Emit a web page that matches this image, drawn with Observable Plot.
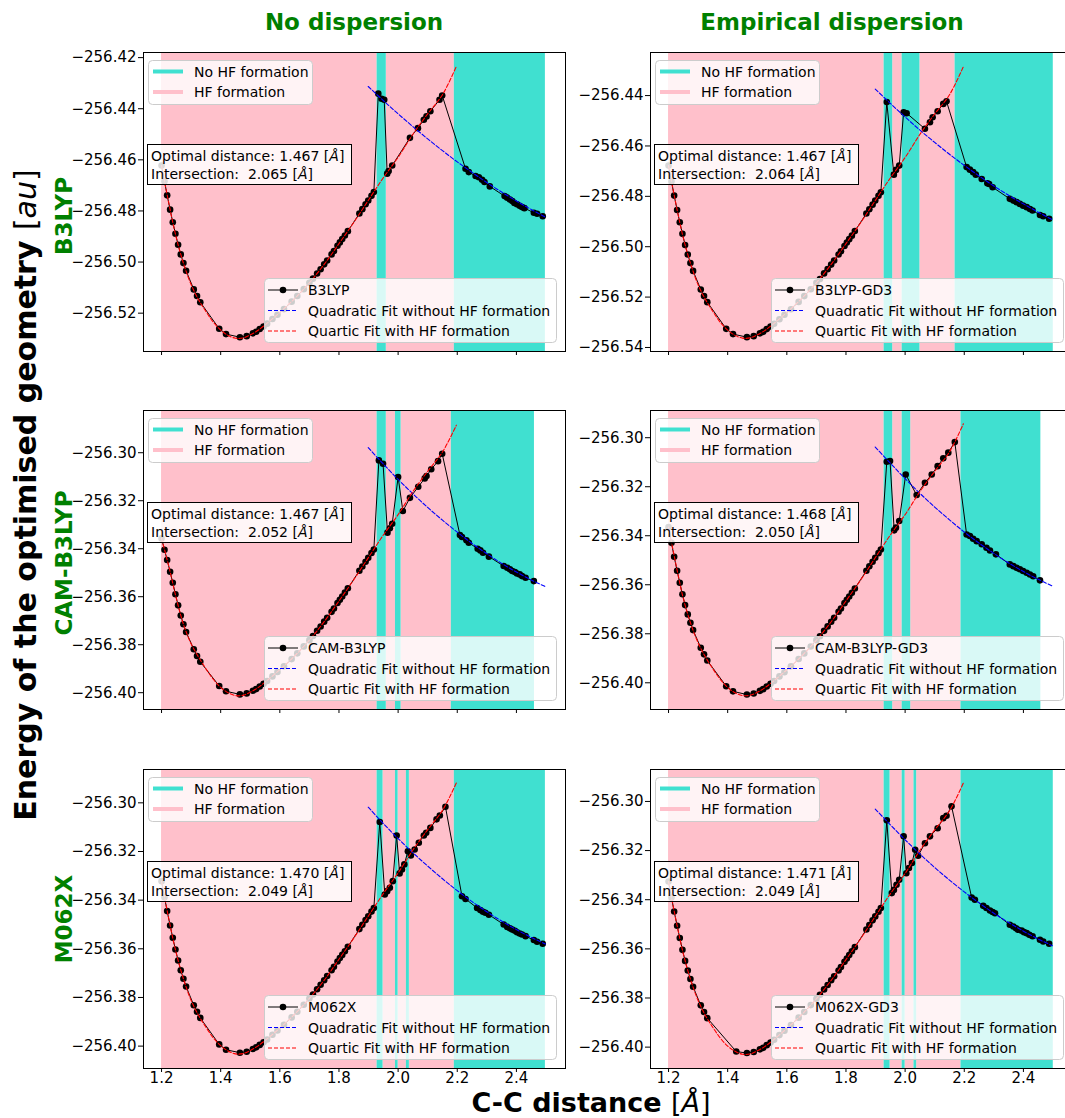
<!DOCTYPE html>
<html>
<head>
<meta charset="utf-8">
<script src="https://cdn.jsdelivr.net/npm/d3@7"></script>
<script src="https://cdn.jsdelivr.net/npm/@observablehq/plot@0.6"></script>
<style>
html,body{margin:0;padding:0;background:#fff;}
#fig{position:relative;width:1065px;height:1118px;overflow:hidden;background:#fff;font-family:"DejaVu Sans",sans-serif;}
#fig svg.ov{position:absolute;overflow:visible;font-family:"DejaVu Sans",sans-serif;font-size:14px;pointer-events:none;}
</style>
</head>
<body>
<div id="fig"></div>
<script>
// ---------------- data ----------------
const columnTitles = ["No dispersion", "Empirical dispersion"];
const rowLabels = ["B3LYP", "CAM-B3LYP", "M062X"];
const legendKinds = ["No HF formation", "HF formation"];
const fitLabels = ["Quadratic Fit without HF formation", "Quartic Fit with HF formation"];
const xTicks = [1.2, 1.4, 1.6, 1.8, 2.0, 2.2, 2.4];
const yTicksB3LYP = [-256.52, -256.50, -256.48, -256.46, -256.44, -256.42];
const yTicksB3LYPGD3 = [-256.54, -256.52, -256.50, -256.48, -256.46, -256.44];
const yTicksOther = [-256.40, -256.38, -256.36, -256.34, -256.32, -256.30];

// C-C distances of the scan (short-distance branch)
const scanX = [1.200,1.210,1.219,1.229,1.238,1.247,1.256,1.265,1.274,1.283,1.309,1.320,1.331,1.395,1.418,1.465,1.488,1.509,1.520,1.532,1.545,1.557,1.575,1.592,1.614,1.640,1.659,1.681,1.700,1.712,1.726,1.738,1.750,1.760,1.775,1.783,1.795,1.803,1.811,1.820,1.830,1.869,1.879,1.890,1.899,1.910,1.918];
const m062xGd3ScanX = [1.200,1.210,1.219,1.229,1.238,1.247,1.256,1.265,1.274,1.283,1.309,1.320,1.331,1.429,1.465,1.488,1.509,1.520,1.532,1.545,1.557,1.575,1.592,1.614,1.640,1.659,1.681,1.700,1.712,1.726,1.738,1.750,1.760,1.775,1.783,1.795,1.803,1.811,1.820,1.830,1.869,1.879,1.890,1.899,1.910,1.918];

// fit curve sample positions
const quarticX = [1.200,1.225,1.250,1.275,1.300,1.325,1.350,1.375,1.400,1.425,1.450,1.475,1.500,1.525,1.550,1.600,1.650,1.700,1.750,1.800,1.850,1.900,1.950,2.000,2.050,2.100,2.150,2.197];
const quadX = [1.899,1.950,2.000,2.050,2.100,2.150,2.200,2.250,2.300,2.350,2.400,2.450,2.498];

// ---- B3LYP ----
const b3lypScanY = [-256.4622,-256.4684,-256.4739,-256.4795,-256.4844,-256.4889,-256.4932,-256.4970,-256.5004,-256.5034,-256.5107,-256.5133,-256.5157,-256.5261,-256.5282,-256.5294,-256.5290,-256.5279,-256.5273,-256.5262,-256.5252,-256.5241,-256.5223,-256.5206,-256.5184,-256.5155,-256.5133,-256.5106,-256.5081,-256.5065,-256.5045,-256.5028,-256.5009,-256.4994,-256.4970,-256.4957,-256.4936,-256.4923,-256.4910,-256.4896,-256.4879,-256.4810,-256.4793,-256.4774,-256.4759,-256.4741,-256.4726];
const b3lypTailX = [1.933,1.944,1.953,1.963,1.968,1.980,2.040,2.067,2.087,2.096,2.109,2.140,2.149,2.228,2.239,2.262,2.273,2.284,2.292,2.310,2.360,2.369,2.378,2.386,2.393,2.402,2.411,2.419,2.427,2.459,2.470,2.489];
const b3lypTailY = [-256.4341,-256.4361,-256.4365,-256.4654,-256.4644,-256.4622,-256.4514,-256.4476,-256.4443,-256.4430,-256.4410,-256.4365,-256.4348,-256.4635,-256.4648,-256.4663,-256.4668,-256.4678,-256.4687,-256.4704,-256.4742,-256.4748,-256.4755,-256.4761,-256.4769,-256.4774,-256.4780,-256.4785,-256.4789,-256.4807,-256.4811,-256.4821];
const b3lypQuarticY = [-256.4622,-256.4772,-256.4905,-256.5008,-256.5088,-256.5147,-256.5193,-256.5235,-256.5266,-256.5287,-256.5298,-256.5297,-256.5285,-256.5268,-256.5246,-256.5197,-256.5143,-256.5081,-256.5009,-256.4928,-256.4845,-256.4757,-256.4670,-256.4590,-256.4500,-256.4420,-256.4345,-256.4234];
const b3lypQuadY = [-256.4313,-256.4368,-256.4420,-256.4470,-256.4518,-256.4564,-256.4608,-256.4649,-256.4689,-256.4726,-256.4761,-256.4794,-256.4824];
const b3lypSpans = [[1.200,1.929,"HF"],[1.929,1.960,"no"],[1.960,2.190,"HF"],[2.190,2.498,"no"]];

// ---- B3LYP-GD3 ----
const b3lypGd3ScanY = [-256.4678,-256.4741,-256.4797,-256.4854,-256.4903,-256.4949,-256.4993,-256.5031,-256.5065,-256.5096,-256.5170,-256.5196,-256.5220,-256.5326,-256.5347,-256.5359,-256.5355,-256.5344,-256.5338,-256.5327,-256.5317,-256.5306,-256.5288,-256.5270,-256.5248,-256.5219,-256.5196,-256.5169,-256.5143,-256.5128,-256.5106,-256.5089,-256.5071,-256.5055,-256.5031,-256.5018,-256.4997,-256.4983,-256.4970,-256.4956,-256.4938,-256.4868,-256.4851,-256.4833,-256.4817,-256.4798,-256.4784];
const b3lypGd3TailX = [1.938,1.962,1.969,1.980,1.995,2.005,2.067,2.084,2.093,2.110,2.129,2.140,2.208,2.219,2.230,2.239,2.259,2.278,2.284,2.296,2.354,2.366,2.377,2.388,2.399,2.411,2.422,2.431,2.456,2.467,2.487];
const b3lypGd3TailY = [-256.4426,-256.4714,-256.4695,-256.4678,-256.4466,-256.4470,-256.4532,-256.4506,-256.4486,-256.4462,-256.4433,-256.4423,-256.4684,-256.4694,-256.4704,-256.4714,-256.4731,-256.4748,-256.4751,-256.4764,-256.4810,-256.4817,-256.4823,-256.4830,-256.4837,-256.4843,-256.4850,-256.4856,-256.4874,-256.4879,-256.4889];
const b3lypGd3QuarticY = [-256.4678,-256.4830,-256.4965,-256.5069,-256.5151,-256.5210,-256.5257,-256.5300,-256.5331,-256.5352,-256.5363,-256.5362,-256.5350,-256.5333,-256.5311,-256.5261,-256.5206,-256.5143,-256.5070,-256.4988,-256.4904,-256.4815,-256.4727,-256.4646,-256.4554,-256.4473,-256.4397,-256.4285];
const b3lypGd3QuadY = [-256.4374,-256.4431,-256.4485,-256.4537,-256.4586,-256.4633,-256.4677,-256.4719,-256.4759,-256.4796,-256.4830,-256.4863,-256.4893];
const b3lypGd3Spans = [[1.200,1.929,"HF"],[1.929,1.958,"no"],[1.958,1.990,"HF"],[1.990,2.050,"no"],[2.050,2.169,"HF"],[2.169,2.501,"no"]];

// ---- CAM-B3LYP ----
const camScanY = [-256.3357,-256.3404,-256.3447,-256.3496,-256.3542,-256.3590,-256.3636,-256.3678,-256.3715,-256.3747,-256.3819,-256.3847,-256.3871,-256.3972,-256.3994,-256.4007,-256.4003,-256.3992,-256.3985,-256.3974,-256.3963,-256.3951,-256.3932,-256.3914,-256.3890,-256.3860,-256.3836,-256.3807,-256.3781,-256.3764,-256.3742,-256.3724,-256.3704,-256.3688,-256.3663,-256.3649,-256.3626,-256.3613,-256.3599,-256.3583,-256.3565,-256.3492,-256.3474,-256.3454,-256.3438,-256.3418,-256.3403];
const camTailX = [1.935,1.949,1.964,1.972,1.980,2.000,2.016,2.040,2.068,2.090,2.096,2.112,2.135,2.149,2.209,2.216,2.231,2.239,2.269,2.278,2.287,2.307,2.357,2.369,2.378,2.386,2.395,2.402,2.411,2.419,2.431,2.459];
const camTailY = [-256.3032,-256.3046,-256.3333,-256.3315,-256.3296,-256.3101,-256.3243,-256.3188,-256.3142,-256.3107,-256.3097,-256.3069,-256.3035,-256.3004,-256.3343,-256.3351,-256.3365,-256.3375,-256.3400,-256.3407,-256.3417,-256.3433,-256.3472,-256.3479,-256.3486,-256.3493,-256.3497,-256.3503,-256.3507,-256.3514,-256.3521,-256.3535];
const camQuarticY = [-256.3357,-256.3475,-256.3607,-256.3718,-256.3796,-256.3851,-256.3900,-256.3944,-256.3978,-256.4000,-256.4012,-256.4011,-256.3998,-256.3980,-256.3956,-256.3904,-256.3847,-256.3781,-256.3704,-256.3618,-256.3529,-256.3436,-256.3343,-256.3258,-256.3162,-256.3077,-256.2997,-256.2885];
const camQuadY = [-256.2979,-256.3047,-256.3111,-256.3171,-256.3228,-256.3281,-256.3331,-256.3378,-256.3421,-256.3461,-256.3497,-256.3530,-256.3558];
const camSpans = [[1.200,1.929,"HF"],[1.929,1.960,"no"],[1.960,1.991,"HF"],[1.991,2.010,"no"],[2.010,2.180,"HF"],[2.180,2.461,"no"]];

// ---- CAM-B3LYP-GD3 ----
const camGd3ScanY = [-256.3365,-256.3429,-256.3486,-256.3543,-256.3592,-256.3639,-256.3683,-256.3721,-256.3755,-256.3785,-256.3857,-256.3884,-256.3909,-256.4014,-256.4035,-256.4048,-256.4044,-256.4033,-256.4026,-256.4015,-256.4004,-256.3993,-256.3974,-256.3957,-256.3933,-256.3903,-256.3880,-256.3852,-256.3826,-256.3810,-256.3788,-256.3770,-256.3751,-256.3735,-256.3710,-256.3697,-256.3675,-256.3661,-256.3648,-256.3633,-256.3615,-256.3543,-256.3525,-256.3506,-256.3490,-256.3471,-256.3456];
const camGd3TailX = [1.938,1.949,1.963,1.969,1.980,2.002,2.039,2.067,2.090,2.110,2.129,2.146,2.168,2.208,2.219,2.230,2.242,2.259,2.275,2.287,2.307,2.354,2.366,2.377,2.388,2.399,2.411,2.422,2.433,2.456];
const camGd3TailY = [-256.3098,-256.3095,-256.3378,-256.3367,-256.3340,-256.3150,-256.3234,-256.3184,-256.3150,-256.3116,-256.3084,-256.3061,-256.3018,-256.3395,-256.3401,-256.3412,-256.3422,-256.3435,-256.3449,-256.3460,-256.3476,-256.3517,-256.3524,-256.3531,-256.3537,-256.3544,-256.3551,-256.3558,-256.3565,-256.3582];
const camGd3QuarticY = [-256.3365,-256.3517,-256.3656,-256.3758,-256.3837,-256.3895,-256.3943,-256.3986,-256.4019,-256.4041,-256.4052,-256.4051,-256.4039,-256.4021,-256.3998,-256.3947,-256.3891,-256.3826,-256.3751,-256.3666,-256.3580,-256.3488,-256.3397,-256.3314,-256.3220,-256.3137,-256.3058,-256.2943];
const camGd3QuadY = [-256.3038,-256.3104,-256.3167,-256.3227,-256.3283,-256.3335,-256.3385,-256.3430,-256.3472,-256.3511,-256.3546,-256.3578,-256.3605];
const camGd3Spans = [[1.200,1.929,"HF"],[1.929,1.958,"no"],[1.958,1.990,"HF"],[1.990,2.019,"no"],[2.019,2.189,"HF"],[2.189,2.459,"no"]];

// ---- M062X ----
const m062xScanY = [-256.3322,-256.3388,-256.3445,-256.3504,-256.3555,-256.3603,-256.3648,-256.3688,-256.3723,-256.3755,-256.3832,-256.3859,-256.3884,-256.3993,-256.4015,-256.4027,-256.4023,-256.4012,-256.4005,-256.3995,-256.3984,-256.3973,-256.3953,-256.3936,-256.3912,-256.3882,-256.3859,-256.3830,-256.3804,-256.3788,-256.3766,-256.3748,-256.3729,-256.3712,-256.3688,-256.3674,-256.3652,-256.3638,-256.3625,-256.3610,-256.3592,-256.3519,-256.3501,-256.3482,-256.3466,-256.3447,-256.3432];
const m062xTailX = [1.938,1.955,1.963,1.972,1.982,1.995,2.005,2.013,2.021,2.033,2.043,2.056,2.070,2.087,2.095,2.109,2.130,2.141,2.160,2.216,2.228,2.267,2.278,2.287,2.295,2.307,2.357,2.369,2.378,2.386,2.395,2.402,2.411,2.419,2.431,2.459,2.470,2.489];
const m062xTailY = [-256.3079,-256.3377,-256.3363,-256.3349,-256.3322,-256.3134,-256.3290,-256.3274,-256.3253,-256.3199,-256.3216,-256.3192,-256.3164,-256.3134,-256.3123,-256.3103,-256.3068,-256.3052,-256.3016,-256.3384,-256.3395,-256.3432,-256.3441,-256.3448,-256.3452,-256.3460,-256.3500,-256.3510,-256.3516,-256.3521,-256.3526,-256.3532,-256.3537,-256.3541,-256.3548,-256.3564,-256.3571,-256.3579];
const m062xQuarticY = [-256.3322,-256.3480,-256.3619,-256.3727,-256.3812,-256.3873,-256.3922,-256.3966,-256.3998,-256.4020,-256.4032,-256.4031,-256.4018,-256.4000,-256.3977,-256.3926,-256.3869,-256.3804,-256.3729,-256.3643,-256.3556,-256.3464,-256.3373,-256.3288,-256.3194,-256.3110,-256.3031,-256.2918];
const m062xQuadY = [-256.3018,-256.3085,-256.3147,-256.3205,-256.3260,-256.3312,-256.3361,-256.3406,-256.3448,-256.3486,-256.3521,-256.3553,-256.3580];
const m062xSpans = [[1.200,1.929,"HF"],[1.929,1.949,"no"],[1.949,1.991,"HF"],[1.991,2.000,"no"],[2.000,2.028,"HF"],[2.028,2.038,"no"],[2.038,2.190,"HF"],[2.190,2.498,"no"]];

// ---- M062X-GD3 ----
const m062xGd3ScanY = [-256.3326,-256.3391,-256.3448,-256.3506,-256.3556,-256.3604,-256.3649,-256.3688,-256.3723,-256.3754,-256.3830,-256.3857,-256.3882,-256.4018,-256.4024,-256.4020,-256.4009,-256.4003,-256.3992,-256.3981,-256.3970,-256.3951,-256.3933,-256.3910,-256.3880,-256.3857,-256.3829,-256.3803,-256.3787,-256.3765,-256.3747,-256.3728,-256.3712,-256.3688,-256.3674,-256.3653,-256.3639,-256.3625,-256.3610,-256.3593,-256.3521,-256.3503,-256.3484,-256.3468,-256.3449,-256.3434];
const m062xGd3TailX = [1.938,1.955,1.962,1.971,1.980,1.995,2.004,2.013,2.023,2.034,2.044,2.067,2.084,2.110,2.129,2.140,2.157,2.225,2.236,2.264,2.275,2.287,2.296,2.304,2.354,2.366,2.375,2.382,2.394,2.402,2.411,2.420,2.431,2.456,2.467,2.487];
const m062xGd3TailY = [-256.3077,-256.3373,-256.3360,-256.3339,-256.3319,-256.3142,-256.3292,-256.3271,-256.3251,-256.3197,-256.3221,-256.3170,-256.3142,-256.3109,-256.3068,-256.3058,-256.3020,-256.3391,-256.3400,-256.3425,-256.3434,-256.3444,-256.3450,-256.3455,-256.3502,-256.3509,-256.3516,-256.3522,-256.3526,-256.3532,-256.3536,-256.3543,-256.3549,-256.3563,-256.3570,-256.3579];
const m062xGd3QuarticY = [-256.3326,-256.3482,-256.3620,-256.3727,-256.3810,-256.3872,-256.3920,-256.3963,-256.3996,-256.4017,-256.4029,-256.4028,-256.4015,-256.3998,-256.3975,-256.3924,-256.3868,-256.3803,-256.3728,-256.3644,-256.3558,-256.3466,-256.3376,-256.3293,-256.3199,-256.3116,-256.3038,-256.2925];
const m062xGd3QuadY = [-256.3031,-256.3095,-256.3156,-256.3214,-256.3269,-256.3320,-256.3368,-256.3413,-256.3455,-256.3493,-256.3528,-256.3560,-256.3587];
const m062xGd3Spans = [[1.200,1.929,"HF"],[1.929,1.949,"no"],[1.949,1.990,"HF"],[1.990,2.000,"no"],[2.000,2.030,"HF"],[2.030,2.039,"no"],[2.039,2.189,"HF"],[2.189,2.501,"no"]];

const panels = [
  {method:"B3LYP", col:0, row:0, scanX:scanX, scanY:b3lypScanY, tailX:b3lypTailX, tailY:b3lypTailY, quartic:b3lypQuarticY, quad:b3lypQuadY, spans:b3lypSpans, yDomain:[-256.5350,-256.4180], yTicks:yTicksB3LYP, optimal:"1.467", intersection:"2.065"},
  {method:"B3LYP-GD3", col:1, row:0, scanX:scanX, scanY:b3lypGd3ScanY, tailX:b3lypGd3TailX, tailY:b3lypGd3TailY, quartic:b3lypGd3QuarticY, quad:b3lypGd3QuadY, spans:b3lypGd3Spans, yDomain:[-256.5416,-256.4229], yTicks:yTicksB3LYPGD3, optimal:"1.467", intersection:"2.064"},
  {method:"CAM-B3LYP", col:0, row:1, scanX:scanX, scanY:camScanY, tailX:camTailX, tailY:camTailY, quartic:camQuarticY, quad:camQuadY, spans:camSpans, yDomain:[-256.4070,-256.2824], yTicks:yTicksOther, optimal:"1.467", intersection:"2.052"},
  {method:"CAM-B3LYP-GD3", col:1, row:1, scanX:scanX, scanY:camGd3ScanY, tailX:camGd3TailX, tailY:camGd3TailY, quartic:camGd3QuarticY, quad:camGd3QuadY, spans:camGd3Spans, yDomain:[-256.4109,-256.2889], yTicks:yTicksOther, optimal:"1.468", intersection:"2.050"},
  {method:"M062X", col:0, row:2, scanX:scanX, scanY:m062xScanY, tailX:m062xTailX, tailY:m062xTailY, quartic:m062xQuarticY, quad:m062xQuadY, spans:m062xSpans, yDomain:[-256.4092,-256.2863], yTicks:yTicksOther, optimal:"1.470", intersection:"2.049"},
  {method:"M062X-GD3", col:1, row:2, scanX:m062xGd3ScanX, scanY:m062xGd3ScanY, tailX:m062xGd3TailX, tailY:m062xGd3TailY, quartic:m062xGd3QuarticY, quad:m062xGd3QuadY, spans:m062xGd3Spans, yDomain:[-256.4087,-256.2870], yTicks:yTicksOther, optimal:"1.471", intersection:"2.049"}
];

// ---------------- layout / drawing ----------------
const TURQ = "#40E0D0", PINK = "#FFC0CB";
const FW = 422, FH = 299, ML = 84, MR = 12, MT = 6, MB = 49;
const colLeft = [143, 650], rowTop = [52, 410, 769];
const fig = document.getElementById("fig");
const fmtY = d3.format(".2f"), fmtX = d3.format(".1f");

for (const p of panels) {
  const fl = colLeft[p.col], ft = rowTop[p.row];
  const allY = p.scanY.concat(p.tailY);
  const pts = p.scanX.concat(p.tailX).map((x, i) => ({x, y: allY[i]}));
  const quart = quarticX.map((x, i) => ({x, y: p.quartic[i]}));
  const quad = quadX.map((x, i) => ({x, y: p.quad[i]}));
  const spans = p.spans.map(([a, b, k]) => ({a, b, k}));
  const bottom = p.row === 2;
  const chart = Plot.plot({
    width: ML + FW + MR, height: MT + FH + MB,
    marginLeft: ML, marginRight: MR, marginTop: MT, marginBottom: MB,
    style: {fontFamily: "'DejaVu Sans', sans-serif", fontSize: "15px", color: "#000", background: "transparent", overflow: "visible"},
    x: {domain: [1.139, 2.566], ticks: xTicks, tickFormat: bottom ? fmtX : () => "", tickSize: 4, tickPadding: 0, label: null},
    y: {domain: p.yDomain, ticks: p.yTicks, tickFormat: fmtY, tickSize: 5, tickPadding: 2, label: null},
    marks: [
      Plot.barX(spans.filter(d => d.k === "HF"), {x1: "a", x2: "b", fill: PINK}),
      Plot.barX(spans.filter(d => d.k === "no"), {x1: "a", x2: "b", fill: TURQ}),
      Plot.line(pts, {x: "x", y: "y", stroke: "black", strokeWidth: 1}),
      Plot.dot(pts, {x: "x", y: "y", r: 3.3, fill: "black", stroke: "none"}),
      Plot.line(quad, {x: "x", y: "y", stroke: "blue", strokeWidth: 1.1, strokeDasharray: "4,2", curve: "catmull-rom", clip: true}),
      Plot.line(quart, {x: "x", y: "y", stroke: "red", strokeWidth: 1.1, strokeDasharray: "4,2", curve: "catmull-rom", clip: true}),
      Plot.frame({stroke: "black", strokeWidth: 1})
    ]
  });
  chart.style.maxWidth = "none";
  const wrap = document.createElement("div");
  wrap.style.cssText = `position:absolute;left:${fl - ML}px;top:${ft - MT}px;width:${ML + FW + MR}px;height:${MT + FH + MB}px;`;
  wrap.appendChild(chart);
  fig.appendChild(wrap);

  // upper-left legend (span colours)
  fig.insertAdjacentHTML("beforeend",
    `<svg class="ov" style="left:${fl + 5}px;top:${ft + 8}px" width="165" height="45">
      <rect x="0.5" y="0.5" width="164" height="44" rx="4" fill="white" fill-opacity="0.8" stroke="#cccccc"/>
      <line x1="5" x2="35" y1="11.5" y2="11.5" stroke="${TURQ}" stroke-width="4"/>
      <text x="46" y="11.5" dominant-baseline="central">${legendKinds[0]}</text>
      <line x1="5" x2="35" y1="32" y2="32" stroke="${PINK}" stroke-width="4"/>
      <text x="46" y="32" dominant-baseline="central">${legendKinds[1]}</text>
    </svg>`);
  // text box
  fig.insertAdjacentHTML("beforeend",
    `<svg class="ov" style="left:${fl + 4}px;top:${ft + 92}px;white-space:pre" width="205" height="41">
      <rect x="0.5" y="0.5" width="204" height="40" fill="white" fill-opacity="0.85" stroke="black"/>
      <text x="4" y="11.5" dominant-baseline="central" xml:space="preserve">Optimal distance: ${p.optimal} [<tspan font-style="italic">Å</tspan>]</text>
      <text x="4" y="29.5" dominant-baseline="central" xml:space="preserve">Intersection:  ${p.intersection} [<tspan font-style="italic">Å</tspan>]</text>
    </svg>`);
  // lower-right legend
  const lw = 293, lh = 65;
  const ll = fl + FW - 8 - lw, lt = ft + FH - 8 - lh;
  fig.insertAdjacentHTML("beforeend",
    `<svg class="ov" style="left:${ll}px;top:${lt}px" width="${lw}" height="${lh}">
      <rect x="0.5" y="0.5" width="${lw - 1}" height="${lh - 1}" rx="4" fill="white" fill-opacity="0.8" stroke="#cccccc"/>
      <line x1="4" x2="34" y1="12" y2="12" stroke="black" stroke-width="1"/>
      <circle cx="19" cy="12" r="3.3" fill="black"/>
      <text x="44" y="12" dominant-baseline="central">${p.method}</text>
      <line x1="4" x2="34" y1="32.5" y2="32.5" stroke="#0000ff" stroke-width="1.1" stroke-dasharray="4,2"/>
      <text x="44" y="32.5" dominant-baseline="central">${fitLabels[0]}</text>
      <line x1="4" x2="34" y1="53" y2="53" stroke="#ff0000" stroke-width="1.1" stroke-dasharray="4,2"/>
      <text x="44" y="53" dominant-baseline="central">${fitLabels[1]}</text>
    </svg>`);
}

// figure-level texts
const rowCenters = [216, 563, 919];
fig.insertAdjacentHTML("beforeend",
  `<svg class="ov" style="left:0;top:0" width="1065" height="1118">
    <text x="354" y="30" text-anchor="middle" font-size="23" font-weight="bold" fill="green">${columnTitles[0]}</text>
    <text x="832" y="30" text-anchor="middle" font-size="23" font-weight="bold" fill="green">${columnTitles[1]}</text>
    ${rowLabels.map((r, i) => `<text transform="translate(72,${rowCenters[i]}) rotate(-90)" text-anchor="middle" font-size="23" font-weight="bold" fill="green">${r}</text>`).join("")}
    <text transform="translate(36,495) rotate(-90)" text-anchor="middle" font-size="30" font-weight="bold" fill="black">Energy of the optimised geometry <tspan font-weight="normal">[<tspan font-style="italic">au</tspan>]</tspan></text>
    <text x="591" y="1111.5" text-anchor="middle" font-size="27" font-weight="bold" fill="black">C-C distance <tspan font-weight="normal">[<tspan font-style="italic">Å</tspan>]</tspan></text>
  </svg>`);
</script>
</body>
</html>
